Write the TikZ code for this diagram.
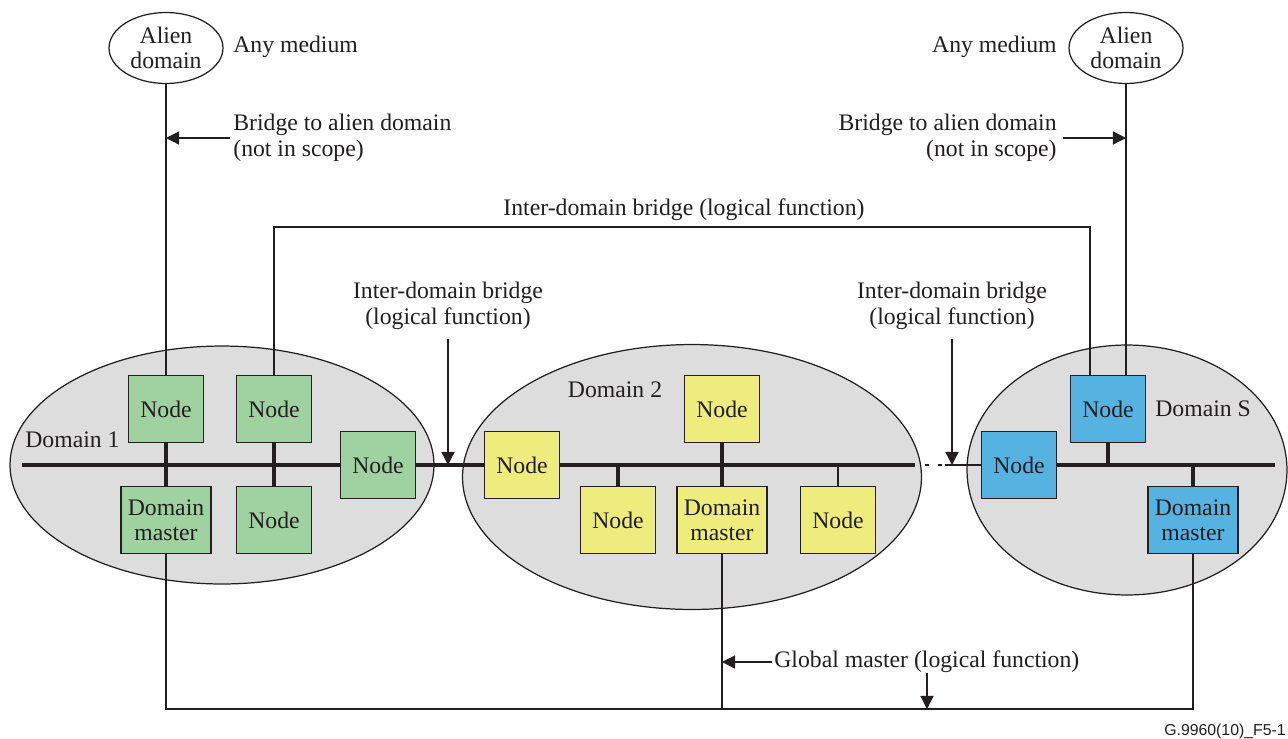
\documentclass[tikz,border=0pt]{standalone}
\usepackage{fontspec}
\setmainfont{Liberation Serif}
\newfontfamily\figsans{Liberation Sans}
\usetikzlibrary{positioning}
\usetikzlibrary{calc}
\usetikzlibrary{arrows.meta}
\usetikzlibrary{shapes.geometric}

\definecolor{linegray}{RGB}{35,31,32}
\definecolor{domgray}{RGB}{221,221,221}
\definecolor{nodegreen}{RGB}{159,210,160}
\definecolor{nodeyellow}{RGB}{238,236,125}
\definecolor{nodeblue}{RGB}{85,178,225}

\tikzset{
  dombox/.style={draw=linegray, line width=0.8pt, minimum width=1.5cm, minimum height=1.34cm, inner sep=0pt, align=center},
  masterbox/.style={dombox, minimum width=1.8cm},
  domarea/.style={draw=linegray, fill=domgray, line width=0.7pt, ellipse, inner sep=0pt},
  alien/.style={draw=linegray, line width=0.7pt, ellipse, inner sep=0pt, align=center, minimum width=2.28cm, minimum height=1.42cm},
  bus/.style={line width=1.8pt, linegray},
  wire/.style={line width=0.7pt, linegray},
  pointer/.style={wire, -{Triangle[length=7.5pt,width=7.5pt]}},
  lbl/.style={align=center, inner sep=0pt},
}

\begin{document}
\begin{tikzpicture}[x=0.02cm, y=-0.02cm, font=\fontsize{13.5}{14.5}\selectfont, text=linegray]
\useasboundingbox (0,0) rectangle (1288,738);

% domains
\node[domarea, minimum width=8.48cm, minimum height=4.76cm] (dom1) at (222,465) {};
\node[domarea, minimum width=9.18cm, minimum height=5.3cm] (dom2) at (692,477) {};
\node[domarea, minimum width=6.4cm, minimum height=5.0cm] (domS) at (1127,470) {};
\node[lbl, anchor=west] (dom1lbl) at (25,440) {Domain 1};
\node[lbl] (dom2lbl) at (615,390) {Domain 2};
\node[lbl, anchor=west] (domSlbl) at (1155,409) {Domain S};

% alien domains
\node[alien] (alienL) at (166,48) {Alien\\domain};
\node[alien] (alienR) at (1126,48) {Alien\\domain};
\node[lbl, anchor=west] (medL) at (233,47) {Any medium};
\node[lbl, anchor=east] (medR) at (1057,47) {Any medium};

% domain 1
\node[dombox, fill=nodegreen] (n1a) at (166,409) {Node};
\node[dombox, fill=nodegreen] (n1b) at (274,409) {Node};
\node[dombox, fill=nodegreen] (n1c) at (378,465) {Node};
\node[masterbox, fill=nodegreen] (m1) at (166,520) {Domain\\master};
\node[dombox, fill=nodegreen] (n1d) at (274,520) {Node};

% domain 2
\node[dombox, fill=nodeyellow] (n2a) at (522,465) {Node};
\node[dombox, fill=nodeyellow] (n2b) at (722,409) {Node};
\node[dombox, fill=nodeyellow] (n2c) at (618,520) {Node};
\node[masterbox, fill=nodeyellow] (m2) at (722,520) {Domain\\master};
\node[dombox, fill=nodeyellow] (n2d) at (838,520) {Node};

% domain S
\node[dombox, fill=nodeblue] (nsa) at (1019,465) {Node};
\node[dombox, fill=nodeblue] (nsb) at (1108,409) {Node};
\node[masterbox, fill=nodeblue] (ms) at (1193,520) {Domain\\master};

% buses
\coordinate (b1w) at (22,465);
\coordinate (b2e) at (915,465);
\coordinate (gap) at (945,465);
\coordinate (bSe) at (1275,465);
\draw[bus] (b1w) -- (n1c.west);
\draw[bus] (n1c.east) -- (n2a.west);
\draw[bus] (n2a.east) -- (b2e);
\draw[wire, dash pattern=on 0pt off 0.2cm on 0.08cm off 0.18cm on 0.08cm off 1cm] (b2e) -- (gap);
\draw[wire] (gap) -- (nsa.west);
\draw[bus] (nsa.east) -- (bSe);
\draw[bus] (n1a.south) -- (m1.north);
\draw[bus] (n1b.south) -- (n1d.north);
\draw[bus] (n2b.south) -- (m2.north);
\draw[bus] (n2c.north) -- (n2c.north |- n2a.center);
\draw[wire] (n2d.north) -- (n2d.north |- n2a.center);
\draw[bus] (nsb.south) -- (nsb.south |- nsa.center);
\draw[bus] (ms.north) -- (ms.north |- nsa.center);

% bridges to alien domains
\draw[wire] (alienL.south) -- (n1a.north);
\draw[wire] (alienR.south) -- (alienR.south |- nsb.north);
\node[lbl, anchor=west, align=left] (brL) at (233,138) {Bridge to alien domain\\(not in scope)};
\node[lbl, anchor=east, align=right] (brR) at (1057,138) {Bridge to alien domain\\(not in scope)};
\draw[pointer] ([xshift=-3*0.02cm]brL.west) -- (brL.west -| alienL.south);
\draw[pointer] ([xshift=6*0.02cm]brR.east) -- (brR.east -| alienR.south);

% inter-domain bridge over the top
\coordinate (ibr) at (1090,227);
\draw[wire] (n1b.north) |- (ibr) -- (ibr |- nsb.north);
\node[lbl] (ibrlbl) at (684,210) {Inter-domain bridge (logical function)};

% inter-domain bridges on the bus
\node[lbl] (ib1) at (448,306) {Inter-domain bridge\\(logical function)};
\node[lbl] (ib2) at (952,306) {Inter-domain bridge\\(logical function)};
\coordinate (ib1top) at (448,339);
\coordinate (ib2top) at (952,339);
\draw[pointer] (ib1top) -- (ib1top |- n1c.center);
\draw[pointer] (ib2top) -- (ib2top |- nsa.center);

% global master
\coordinate (gbus) at (0,709);
\draw[wire] (m1.south) -- (m1.south |- gbus) -- (ms.south |- gbus) -- (ms.south);
\draw[wire] (m2.south) -- (m2.south |- gbus);
\node[lbl, anchor=west] (gm) at (774,662) {Global master (logical function)};
\draw[pointer] ([xshift=-2*0.02cm]gm.west) -- (gm.west -| m2.south);
\coordinate (gmtip) at (927,673);
\draw[pointer] (gmtip) -- (gmtip |- gbus);

\node[lbl, anchor=east, font=\figsans\fontsize{9}{10}\selectfont] (figid) at (1286,731) {G.9960(10)\_F5-1};
\end{tikzpicture}
\end{document}
